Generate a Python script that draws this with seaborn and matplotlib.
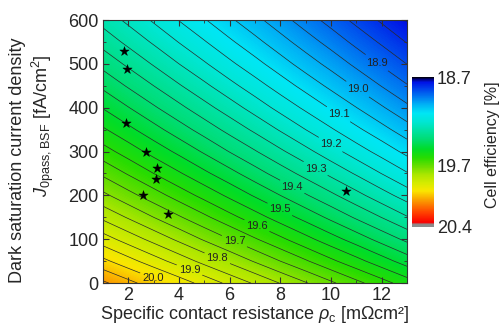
import numpy as np
import pandas as pd
import matplotlib
matplotlib.use("Agg")
import matplotlib.pyplot as plt
import seaborn as sns
from matplotlib.colors import LinearSegmentedColormap, Normalize
from matplotlib.ticker import MultipleLocator

# ---------------- data ----------------
rho_c = [1, 2, 3, 4, 5, 6, 7, 8, 9, 10, 11, 12, 13]                      # mOhm cm2
j0 = [0, 50, 100, 150, 200, 250, 300, 350, 400, 450, 500, 550, 600]     # fA/cm2
# cell efficiency [%], one row per j0 value, columns follow rho_c
eff_j0_0 = [20.110, 20.066, 20.021, 19.977, 19.932, 19.887, 19.843, 19.798, 19.754, 19.709, 19.664, 19.620, 19.575]
eff_j0_50 = [20.013, 19.968, 19.923, 19.879, 19.834, 19.790, 19.745, 19.700, 19.656, 19.611, 19.567, 19.522, 19.477]
eff_j0_100 = [19.923, 19.878, 19.834, 19.789, 19.744, 19.700, 19.655, 19.611, 19.566, 19.521, 19.477, 19.432, 19.388]
eff_j0_150 = [19.839, 19.795, 19.750, 19.706, 19.661, 19.616, 19.572, 19.527, 19.483, 19.438, 19.393, 19.349, 19.304]
eff_j0_200 = [19.762, 19.717, 19.673, 19.628, 19.584, 19.539, 19.494, 19.450, 19.405, 19.361, 19.316, 19.271, 19.227]
eff_j0_250 = [19.690, 19.645, 19.600, 19.556, 19.511, 19.467, 19.422, 19.377, 19.333, 19.288, 19.244, 19.199, 19.154]
eff_j0_300 = [19.621, 19.577, 19.532, 19.488, 19.443, 19.398, 19.354, 19.309, 19.265, 19.220, 19.175, 19.131, 19.086]
eff_j0_350 = [19.557, 19.513, 19.468, 19.423, 19.379, 19.334, 19.290, 19.245, 19.200, 19.156, 19.111, 19.067, 19.022]
eff_j0_400 = [19.497, 19.452, 19.407, 19.363, 19.318, 19.274, 19.229, 19.184, 19.140, 19.095, 19.051, 19.006, 18.961]
eff_j0_450 = [19.439, 19.394, 19.350, 19.305, 19.261, 19.216, 19.172, 19.127, 19.082, 19.038, 18.993, 18.948, 18.904]
eff_j0_500 = [19.384, 19.340, 19.295, 19.250, 19.206, 19.161, 19.117, 19.072, 19.027, 18.983, 18.938, 18.894, 18.849]
eff_j0_550 = [19.332, 19.287, 19.243, 19.198, 19.154, 19.109, 19.065, 19.020, 18.975, 18.931, 18.886, 18.842, 18.797]
eff_j0_600 = [19.282, 19.238, 19.193, 19.148, 19.104, 19.059, 19.015, 18.970, 18.925, 18.881, 18.836, 18.792, 18.747]

# measured samples (stars)
sample_rho = [1.84, 1.94, 1.91, 2.68, 3.15, 3.11, 2.56, 3.57, 10.59]
sample_j0 = [530, 489, 366, 298, 262, 237, 202, 157, 210]

labeled_levels = [18.9, 19.0, 19.1, 19.2, 19.3, 19.4, 19.5, 19.6, 19.7, 19.8, 19.9, 20.0]
label_pos_rho = [11.8, 11.0, 10.45, 9.9, 9.4, 8.4, 7.85, 6.98, 6.1, 5.5, 4.43, 2.97]
label_pos_j0 = [502, 438, 399, 308, 262, 212, 153, 119, 84, 55, 32, 11]
unlabeled_levels = [18.75, 18.8, 18.85, 18.95, 19.05, 19.15, 19.25, 19.35, 19.45,
                    19.55, 19.65, 19.75, 19.85, 19.95, 20.05, 20.1]

cbar_ticks = [18.7, 19.7, 20.4]

# ---------------- styling ----------------
sns.set_style("ticks")
plt.rcParams["font.family"] = ["Liberation Sans", "DejaVu Sans"]
plt.rcParams["mathtext.fontset"] = "custom"
plt.rcParams["mathtext.rm"] = "Liberation Sans"
plt.rcParams["mathtext.it"] = "Liberation Sans:italic"

Z = np.array([eff_j0_0, eff_j0_50, eff_j0_100, eff_j0_150, eff_j0_200, eff_j0_250,
              eff_j0_300, eff_j0_350, eff_j0_400, eff_j0_450, eff_j0_500, eff_j0_550,
              eff_j0_600])
X, Y = np.meshgrid(rho_c, j0)

anchors = [
    (0.000, (0, 0, 0)), (0.012, (0, 0, 120)), (0.035, (0, 20, 230)),
    (0.12, (0, 110, 240)), (0.18, (0, 175, 245)), (0.24, (0, 230, 245)),
    (0.30, (0, 230, 210)), (0.36, (0, 225, 160)), (0.42, (0, 220, 110)),
    (0.48, (0, 220, 40)), (0.54, (40, 220, 0)), (0.60, (110, 222, 0)),
    (0.65, (170, 230, 0)), (0.71, (215, 235, 0)), (0.76, (250, 230, 0)),
    (0.82, (250, 160, 0)), (0.90, (255, 70, 0)), (0.97, (250, 0, 0)),
    (0.985, (140, 140, 140)), (1.0, (140, 140, 140)),
]
cmap = LinearSegmentedColormap.from_list(
    "eff", [(p, tuple(c / 255 for c in rgb)) for p, rgb in anchors], N=512)
vmin, vmax = 18.7, 20.4
norm = Normalize(vmin=vmin, vmax=vmax)

fig = plt.figure(figsize=(5.0, 3.28), dpi=100)
ax = fig.add_axes([0.206, 0.137, 0.608, 0.802])
cax = fig.add_axes([0.824, 0.308, 0.044, 0.457])
ax.set_axisbelow(False)

fill_levels = np.linspace(vmin, vmax, 341)
ax.contourf(X, Y, Z, levels=fill_levels, cmap=cmap, norm=norm)
ax.contour(X, Y, Z, levels=unlabeled_levels, colors="#2a2a2a", linewidths=0.5)
cs = ax.contour(X, Y, Z, levels=labeled_levels, colors="#2a2a2a", linewidths=0.5)
texts = cs.clabel(inline=True, inline_spacing=3, fmt="%.1f", fontsize=8,
                  colors="#222222",
                  manual=list(zip(label_pos_rho, label_pos_j0)))
for t in texts:
    t.set_rotation(0)

df = pd.DataFrame({"rho": sample_rho, "j0": sample_j0})
sns.scatterplot(data=df, x="rho", y="j0", marker="*", s=50, color="black",
                edgecolor="black", linewidth=0.3, ax=ax, zorder=5)

ax.set_xlim(1, 13)
ax.set_ylim(0, 600)
ax.xaxis.set_major_locator(MultipleLocator(2))
ax.xaxis.set_minor_locator(MultipleLocator(1))
ax.yaxis.set_major_locator(MultipleLocator(100))
ax.yaxis.set_minor_locator(MultipleLocator(50))
ax.tick_params(which="both", direction="in", top=True, right=True,
               labelsize=13, color="#333333")
ax.tick_params(which="major", length=4, width=0.8, pad=3)
ax.tick_params(which="minor", length=2.5, width=0.6)
for sp in ax.spines.values():
    sp.set_linewidth(0.8)
    sp.set_color("#333333")
    sp.set_zorder(6)

ax.set_xlabel(r"Specific contact resistance $\it{\rho}_{\rm c}$ [m$\Omega$cm²]",
              fontsize=13, labelpad=0)
ax.set_ylabel("")
fig.text(0.036, 0.512, "Dark saturation current density", rotation=90,
         ha="center", va="center", fontsize=13)
fig.text(0.086, 0.616, r"$\it{J}_{\rm 0pass,BSF}$ [fA/cm$^2$]", rotation=90,
         ha="center", va="center", fontsize=13)

cb = fig.colorbar(plt.cm.ScalarMappable(norm=norm, cmap=cmap), cax=cax)
cb.outline.set_visible(False)
cax.invert_yaxis()
cb.set_ticks(cbar_ticks)
cb.set_ticklabels(["18.7", "19.7", "20.4"])
cax.tick_params(length=0, labelsize=13, pad=2)
fig.text(0.985, 0.56, "Cell efficiency [%]", rotation=90, ha="center",
         va="center", fontsize=11.5)

fig.savefig("out.png", dpi=100)
